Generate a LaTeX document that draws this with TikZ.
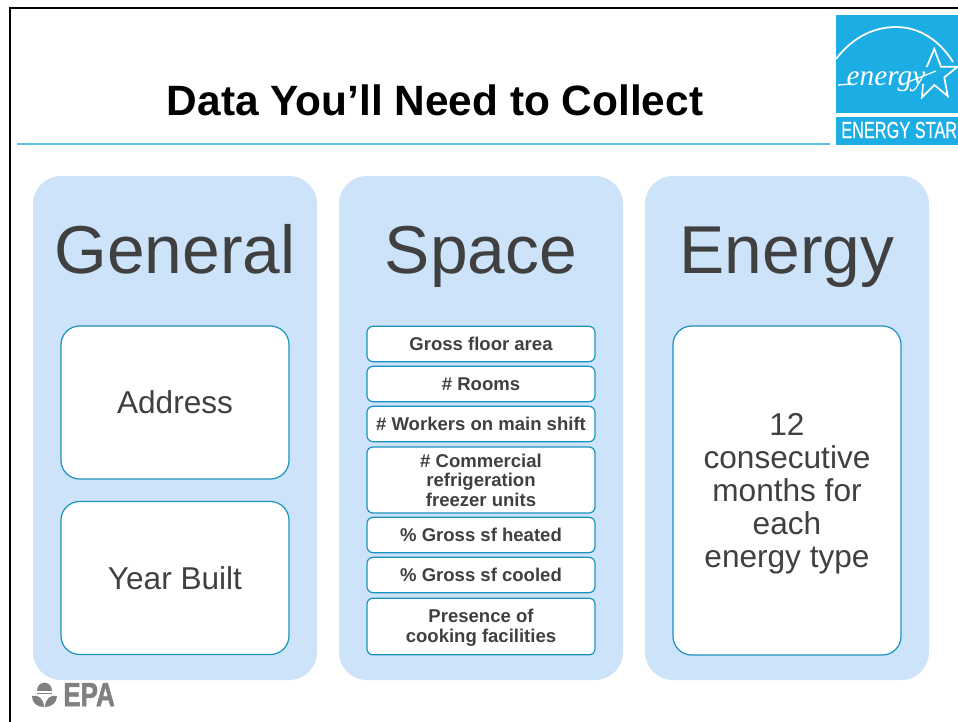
\documentclass[tikz,border=0pt]{standalone}
\usepackage{fontspec}
\setmainfont{Liberation Sans}
\newfontfamily\logoscript{Liberation Serif}
\definecolor{panel}{HTML}{CCE3F9}
\definecolor{edge}{HTML}{1B93BE}
\definecolor{ink}{HTML}{404040}
\definecolor{star}{HTML}{1CADE4}
\definecolor{rulec}{HTML}{5CC3E6}
\definecolor{epa}{HTML}{808080}
\newcommand{\fs}[2]{\fontsize{#1}{#2}\selectfont}
\tikzset{
  px/.style={x=0.75pt,y=-0.75pt},
  panelbox/.style={fill=panel,rounded corners=21pt},
  cardbox/.style={draw=edge,line width=0.9pt,fill=white,anchor=center,inner sep=0pt,align=center,text=ink},
  big/.style={text=ink,font=\fs{50.8}{50.8},anchor=base},
  mid/.style={font=\fs{23.7}{24.75},rounded corners=14pt},
  small/.style={font=\bfseries\fs{13.9}{14.7},rounded corners=4.5pt},
}
\begin{document}
\begin{tikzpicture}[px]
\useasboundingbox (0,0) rectangle (958,722);
\fill[white] (0,0) rectangle (958,722);
% frame
\draw[black,line width=2.2pt] (10,722) -- (10,8) -- (958,8);
% title and rule
\node[font=\bfseries\fs{31.8}{32},text=black] (title) at (435,100) {Data You’ll Need to Collect};
\coordinate (ruleL) at (17,144);
\coordinate (ruleR) at (830,144);
\draw[rulec,line width=1.3pt] (ruleL) -- (ruleR);
% panels
\fill[panelbox] (33,176) rectangle (317,680);
\fill[panelbox] (339,176) rectangle (623,680);
\fill[panelbox] (645,176) rectangle (929,680);
\node[big] (general) at (175,273) {General};
\node[big] (space) at (481,273) {Space};
\node[big] (energy) at (787,273) {Energy};
% general cards
\node[cardbox,mid,minimum width=171pt,minimum height=114.75pt] (address) at (175,402.5) {Address};
\node[cardbox,mid,minimum width=171pt,minimum height=114.75pt] (year) at (175,578) {Year Built};
% space cards
\node[cardbox,small,minimum width=171pt,minimum height=26.5pt] (gfa) at (481,344) {Gross floor area};
\node[cardbox,small,minimum width=171pt,minimum height=26.5pt] (rooms) at (481,384) {\# Rooms};
\node[cardbox,small,minimum width=171pt,minimum height=26.5pt] (workers) at (481,424) {\# Workers on main shift};
\node[cardbox,small,minimum width=171pt,minimum height=49.5pt] (freezer) at (481,480) {\# Commercial\\refrigeration\\freezer units};
\node[cardbox,small,minimum width=171pt,minimum height=26.5pt] (heated) at (481,535) {\% Gross sf heated};
\node[cardbox,small,minimum width=171pt,minimum height=26.5pt] (cooled) at (481,575) {\% Gross sf cooled};
\node[cardbox,small,minimum width=171pt,minimum height=42.5pt] (cooking) at (481,626.5) {\rule{0pt}{11.5pt}Presence of\\cooking facilities};
% energy card
\node[cardbox,mid,minimum width=171pt,minimum height=246.75pt] (months) at (787,490.5) {\rule{0pt}{21.5pt}12\\consecutive\\months for\\each\\energy type};
% Energy Star logo
\fill[star] (836,15) rectangle (958,113);
\fill[star] (836,117) rectangle (958,145);
\begin{scope}
\clip (836,15) rectangle (958,113);
\draw[white,line width=1.3pt] (836,59) .. controls (853,37) and (874,27) .. (896,27) .. controls (920,27) and (940,41) .. (953,62);
\end{scope}
\node[white,font=\logoscript\itshape\fs{22}{22},inner sep=0pt] (logoword) at (886,82) {energy};
\draw[white,line width=1pt] (838,85) -- (851,84);
\draw[white,line width=0.9pt] (908,82) -- (936,71);
\draw[white,line width=1.3pt,line join=miter]
  (926.7,67) -- (934.3,49) -- (941,66.7) -- (957.7,66.7) -- (944.3,77.3) -- (947.7,96) -- (934.3,85) -- (922,97.3) -- (923,84);
\node[white,font=\fs{17.5}{17.5},inner sep=0pt,anchor=west] (logotext) at (841,130) {\addfontfeature{FakeStretch=0.7,FakeBold=0.5}ENERGY STAR};
% EPA logo
\fill[epa] (37,691) .. controls (37,680) and (52,680) .. (52,691) -- cycle;
\fill[epa] (37,692.5) rectangle (52,694);
\fill[epa] (32,696) .. controls (38,694) and (44,699) .. (44,707) .. controls (37,707) and (32,703) .. (32,696) -- cycle;
\fill[epa] (57,696) .. controls (51,694) and (45,699) .. (45,707) .. controls (51,707) and (57,703) .. (57,696) -- cycle;
\node[epa,font=\bfseries\fs{25}{25},inner sep=0pt,anchor=base west] (epaword) at (63,706) {\addfontfeature{FakeStretch=0.78,FakeBold=1.5}EPA};
\end{tikzpicture}
\end{document}
